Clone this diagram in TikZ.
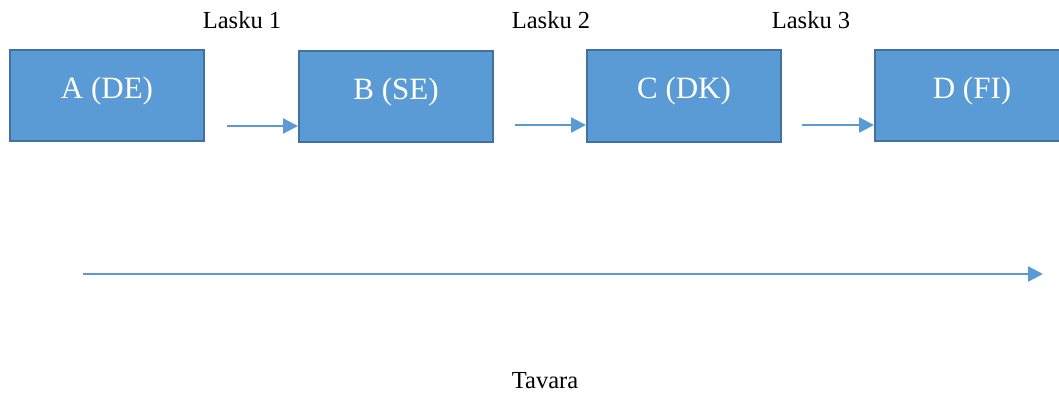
\documentclass[tikz,border=0pt]{standalone}
\usepackage{fontspec}
\setmainfont{Liberation Serif}
\usetikzlibrary{arrows.meta}
\definecolor{boxfill}{HTML}{5B9BD5}
\definecolor{boxline}{HTML}{41719C}
\definecolor{arrcol}{HTML}{5B9BD5}
\begin{document}
\begin{tikzpicture}[x=1pt,y=-1pt,
  country/.style={draw=boxline, line width=2pt, fill=boxfill, text=white,
    minimum width=194pt, inner sep=0pt, text height=48pt, text depth=43pt,
    font=\fontsize{31}{34}\selectfont},
  lbl/.style={font=\fontsize{24.5}{28}\selectfont, inner sep=0pt},
  arr/.style={draw=arrcol, line width=2.4pt, -{Triangle[length=15pt,width=15pt]}}]
\useasboundingbox (0,0) rectangle (1059,396);
\clip (0,0) rectangle (1059,396);
\node[country] (A) at (107,95.5) {A (DE)};
\node[country] (B) at (396,96.5) {B (SE)};
\node[country] (C) at (684,96) {C (DK)};
\node[country] (D) at (972,95.5) {D (FI)};
\node[lbl] (l1) at (242,20) {Lasku 1};
\node[lbl] (l2) at (551,20) {Lasku 2};
\node[lbl] (l3) at (811,20) {Lasku 3};
\node[lbl] (t) at (545,381) {Tavara};
\coordinate (a1) at (227,126);
\coordinate (a2) at (515,125);
\coordinate (a3) at (802,125);
\draw[arr] (a1) -- (B.west |- a1);
\draw[arr] (a2) -- (C.west |- a2);
\draw[arr] (a3) -- (D.west |- a3);
\coordinate (s) at (83,274);
\coordinate (e) at (1043,274);
\draw[arr] (s) -- (e);
\end{tikzpicture}
\end{document}
